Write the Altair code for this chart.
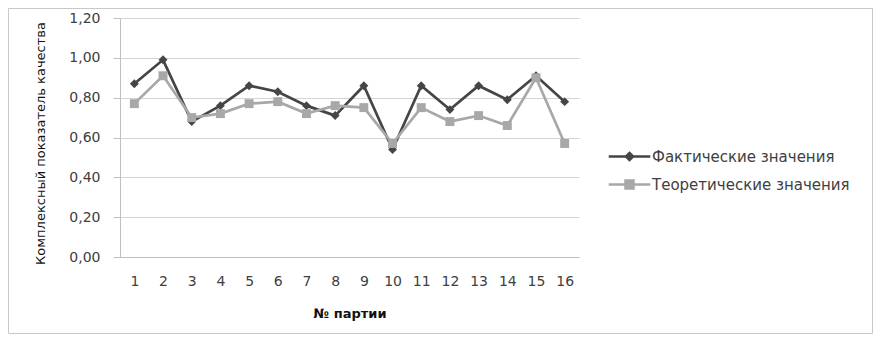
import altair as alt
import pandas as pd

parties = ["1", "2", "3", "4", "5", "6", "7", "8", "9", "10", "11", "12", "13", "14", "15", "16"]
actual = [0.87, 0.99, 0.68, 0.76, 0.86, 0.83, 0.76, 0.71, 0.86, 0.54, 0.86, 0.74, 0.86, 0.79, 0.91, 0.78]
theory = [0.77, 0.91, 0.70, 0.72, 0.77, 0.78, 0.72, 0.76, 0.75, 0.57, 0.75, 0.68, 0.71, 0.66, 0.90, 0.57]
series_names = ["Фактические значения", "Теоретические значения"]
series_colors = ["#454545", "#a8a8a8"]
series_shapes = ["diamond", "square"]
y_ticks = [0.0, 0.2, 0.4, 0.6, 0.8, 1.0, 1.2]

df = pd.DataFrame({
    "party": parties * 2,
    "value": actual + theory,
    "series": [series_names[0]] * len(parties) + [series_names[1]] * len(parties),
})

FONT = "DejaVu Sans"

x_enc = alt.X(
    "party:O", sort=parties,
    scale=alt.Scale(type="point", padding=0.5),
    axis=alt.Axis(title="№ партии", labelAngle=0, ticks=False, grid=False,
                  domainColor="#c0c0c0", labelColor="#404040", labelFontSize=14,
                  labelPadding=17, titleFontWeight="bold", titleFontSize=13,
                  titleColor="#111111", titlePadding=19),
)
y_enc = alt.Y(
    "value:Q", scale=alt.Scale(domain=[0, 1.2]),
    axis=alt.Axis(title="Комплексный показатель качества", values=y_ticks,
                  labelExpr="replace(format(datum.value, '.2f'), '.', ',')",
                  grid=True, gridColor="#d4d4d4", domainColor="#c0c0c0",
                  tickColor="#c0c0c0", tickSize=7, labelPadding=13,
                  labelColor="#404040", labelFontSize=14,
                  titleFontWeight="normal", titleFontSize=13, titleColor="#111111",
                  titleX=-80, titleY=125, titleBaseline="middle"),
)

shape_expr = ("datum.index === 0 ? 'M-2.6,0H2.6M0,-0.45L0.45,0L0,0.45L-0.45,0Z' : "
              "'M-2.6,0H2.6M-0.5,-0.5H0.5V0.5H-0.5Z'")
fill_expr = "datum.index === 0 ? '%s' : '%s'" % (series_colors[0], series_colors[1])
legend = alt.Legend(
    title=None, orient="none", legendX=500, legendY=129,
    symbolSize=256, symbolStrokeWidth=2.5, labelOffset=13, labelLimit=400,
    labelFontSize=15, labelColor="#404040", rowPadding=9,
    symbolType=alt.ExprRef(expr=shape_expr),
    symbolFillColor=alt.ExprRef(expr=fill_expr),
    symbolStrokeColor=alt.ExprRef(expr=fill_expr),
    symbolOpacity=1,
)
color_enc = alt.Color("series:N", scale=alt.Scale(domain=series_names, range=series_colors),
                      legend=legend)

base = alt.Chart(df)
layers = []
for name, col, shp in zip(series_names, series_colors, series_shapes):
    sub = base.transform_filter(alt.datum.series == name)
    layers.append(sub.mark_line(strokeWidth=2.7).encode(x=x_enc, y=y_enc, color=color_enc))
    layers.append(sub.mark_point(filled=True, opacity=1, size=80, shape=shp, color=col).encode(
        x=x_enc, y=y_enc))

frame = alt.Chart(pd.DataFrame({"a": [0]})).mark_rect(
    fill="transparent", stroke="#c8c8c8", strokeWidth=1
).encode(x=alt.value(-111.5), x2=alt.value(752.5), y=alt.value(-9.5), y2=alt.value(315.5))

chart = alt.layer(frame, *layers).properties(
    width=459, height=239,
    autosize=alt.AutoSizeParams(type="none"),
    padding={"left": 112, "top": 10, "right": 294, "bottom": 77},
).configure(font=FONT).configure_view(stroke=None)

chart.save("out.html", embed_options={"renderer": "svg", "actions": False})
